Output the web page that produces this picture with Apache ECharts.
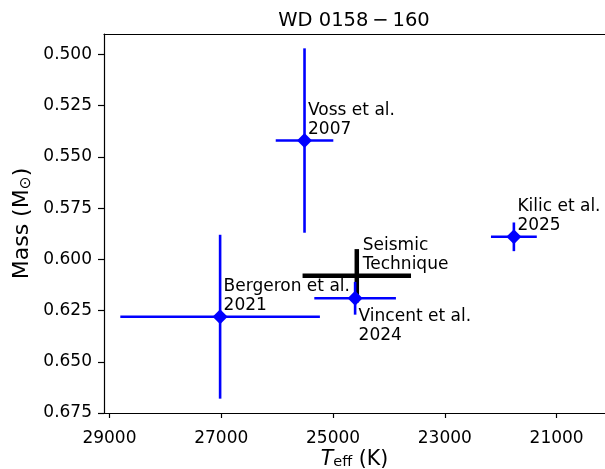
<html>
<head>
<script src="https://cdn.jsdelivr.net/npm/echarts@6/dist/echarts.min.js"></script>
<style>
  html, body { margin: 0; padding: 0; background: #fff; }
  #chart { width: 605px; height: 469px; }
</style>
</head>
<body>
<div id="chart"></div>
<script>
// literature determinations for WD 0158-160
const refs = ['Voss et al.\n2007', 'Bergeron et al.\n2021', 'Vincent et al.\n2024', 'Kilic et al.\n2025'];
const teff = [25510, 27020, 24605, 21765];
const teffErr = [515, 1785, 730, 410];
const mass = [0.542, 0.628, 0.619, 0.589];
const massErr = [0.045, 0.040, 0.008, 0.007];

// seismic solution
const seisLabel = ['Seismic\nTechnique'];
const seisTeff = [24575];
const seisTeffErr = [970];
const seisMass = [0.608];
const seisMassErr = [0.013];

const xTicks = [21000, 23000, 25000, 27000, 29000];
const yTicks = [0.5, 0.525, 0.55, 0.575, 0.6, 0.625, 0.65, 0.675];

const FONT = 'DejaVu Sans';

// label offsets in px: [dx, dy, vertical anchor]
function labelPlace(name) {
    if (name.indexOf('Vincent') === 0) return [3.5, 8.5, 'top'];
    if (name.indexOf('Seismic') === 0) return [6, -1, 'bottom'];
    return [3.5, -1, 'bottom'];
}

function makeRender(names, color, lw, withMarker) {
    return function (params, api) {
        const x = api.value(0), y = api.value(1), ex = api.value(2), ey = api.value(3);
        const c = api.coord([x, y]);
        const l = api.coord([x + ex, y]);
        const r = api.coord([x - ex, y]);
        const t = api.coord([x, y - ey]);
        const b = api.coord([x, y + ey]);
        const ch = [
            { type: 'line', shape: { x1: l[0], y1: l[1], x2: r[0], y2: r[1] }, style: { stroke: color, lineWidth: lw } },
            { type: 'line', shape: { x1: t[0], y1: t[1], x2: b[0], y2: b[1] }, style: { stroke: color, lineWidth: lw } }
        ];
        if (withMarker) {
            const s = 7.5;
            ch.push({
                type: 'polygon',
                shape: { points: [[c[0], c[1] - s], [c[0] + s, c[1]], [c[0], c[1] + s], [c[0] - s, c[1]]] },
                style: { fill: color }
            });
        }
        const name = names[params.dataIndex];
        const p = labelPlace(name);
        ch.push({
            type: 'text',
            style: {
                text: name, x: c[0] + p[0], y: c[1] + p[1],
                align: 'left', verticalAlign: p[2],
                fill: '#000', font: '17px "' + FONT + '"', lineHeight: 19.5
            }
        });
        return { type: 'group', children: ch };
    };
}

const chart = echarts.init(document.getElementById('chart'));

const xBase = {
    type: 'value', min: 20135, max: 29097, inverse: true,
    splitLine: { show: false }
};

chart.setOption({
    animation: false,
    backgroundColor: '#fff',
    title: {
        text: 'WD 0158\u2009\u2212\u2009160',
        left: 354, top: 2, textAlign: 'center', padding: 0,
        textStyle: { fontFamily: FONT, fontSize: 19.5, fontWeight: 'normal', color: '#000' }
    },
    grid: { left: 104, top: 34, right: 0, bottom: 56, containLabel: false, outerBoundsMode: 'none' },
    xAxis: [
        Object.assign({}, xBase, {
            position: 'bottom',
            axisLine: { show: true, onZero: false, lineStyle: { color: '#000', width: 1.2 } },
            axisTick: { show: true, length: 5, customValues: xTicks, lineStyle: { color: '#000', width: 1.2 } },
            axisLabel: {
                customValues: xTicks, color: '#000', fontFamily: FONT, fontSize: 17, margin: 9,
                formatter: v => String(v)
            },
            name: '{i|T}{s|eff}{a| (K)}',
            nameLocation: 'middle', nameGap: 26, nameMoveOverlap: false,
            nameTextStyle: {
                rich: {
                    i: { fontFamily: FONT, fontStyle: 'italic', fontSize: 20.5, color: '#000', verticalAlign: 'top' },
                    s: { fontFamily: FONT, fontSize: 14.5, color: '#000', verticalAlign: 'top', padding: [9, 0, 0, 0] },
                    a: { fontFamily: FONT, fontSize: 20.5, color: '#000', verticalAlign: 'top' }
                }
            }
        }),
        Object.assign({}, xBase, {
            position: 'top',
            axisLine: { show: true, onZero: false, lineStyle: { color: '#000', width: 1.2 } },
            axisTick: { show: false },
            axisLabel: { show: false }
        })
    ],
    yAxis: {
        type: 'value', min: 0.49, max: 0.675, inverse: true,
        splitLine: { show: false },
        axisLine: { show: true, onZero: false, lineStyle: { color: '#000', width: 1.2 } },
        axisTick: { show: true, length: 6, customValues: yTicks, lineStyle: { color: '#000', width: 1.2 } },
        axisLabel: {
            customValues: yTicks, color: '#000', fontFamily: FONT, fontSize: 17, margin: 12,
            formatter: v => v.toFixed(3)
        },
        name: '{a|Mass (M}{s|\u2299}{a|)}',
        nameLocation: 'middle', nameRotate: 90, nameGap: 60, nameMoveOverlap: false,
        nameTextStyle: {
            rich: {
                a: { fontFamily: FONT, fontSize: 22, color: '#000', verticalAlign: 'top' },
                s: { fontFamily: FONT, fontSize: 15.5, color: '#000', verticalAlign: 'top', padding: [10, 0, 0, 0] }
            }
        }
    },
    series: [
        {
            type: 'custom', z: 2,
            renderItem: makeRender(seisLabel, '#000', 4.5, false),
            data: seisTeff.map((v, i) => [v, seisMass[i], seisTeffErr[i], seisMassErr[i]])
        },
        {
            type: 'custom', z: 3,
            renderItem: makeRender(refs, '#0000ff', 2.6, true),
            data: teff.map((v, i) => [v, mass[i], teffErr[i], massErr[i]])
        }
    ]
});
</script>
</body>
</html>
